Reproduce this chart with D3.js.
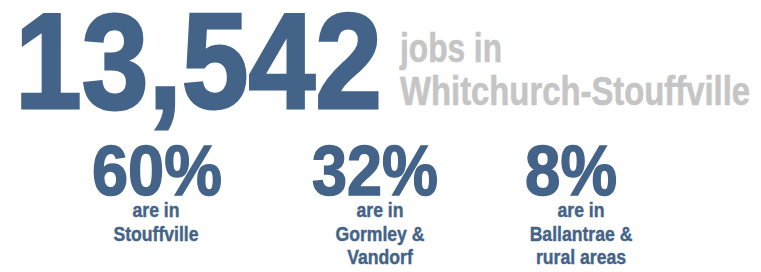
<!DOCTYPE html>
<html lang="en">
<head>
<meta charset="UTF-8">
<title>Jobs in Whitchurch-Stouffville</title>
<style>
  body { margin: 0; background: #fff; }
  svg text { font-family: "Liberation Sans Narrow", "Arial Narrow", "Liberation Sans", sans-serif; font-weight: bold; }
</style>
<script src="https://d3js.org/d3.v7.min.js"></script>
</head>
<body>
<svg id="chart" width="761" height="272"></svg>
<script>
// data
var totalJobs = 13542;
var headline = ["jobs in", "Whitchurch-Stouffville"];
var areas = ["Stouffville", "Gormley & Vandorf", "Ballantrae & rural areas"];
var shares = [60, 32, 8];
var areaLines = [["are in", "Stouffville"], ["are in", "Gormley &", "Vandorf"], ["are in", "Ballantrae &", "rural areas"]];

var blue = "#436389", grey = "#c5c5c5";
var svg = d3.select("#chart");

// big number
svg.append("text")
    .attr("x", 15).attr("y", 108)
    .attr("font-size", 136)
    .attr("textLength", 367).attr("lengthAdjust", "spacingAndGlyphs")
    .attr("fill", blue).attr("stroke", blue).attr("stroke-width", 3)
    .text(d3.format(",")(totalJobs));

svg.selectAll(".head")
    .data(headline)
    .enter().append("text")
    .attr("class", "head")
    .attr("x", 400)
    .attr("y", function (d, i) { return 62 + i * 43; })
    .attr("font-size", 40)
    .attr("textLength", function (d, i) { return i === 0 ? 102 : 350; })
    .attr("lengthAdjust", "spacingAndGlyphs")
    .attr("fill", grey).attr("stroke", grey).attr("stroke-width", 0.6)
    .text(function (d) { return d; });

// columns
var pctX = d3.scaleOrdinal().domain(areas).range([157, 375, 571]);
var lblX = d3.scaleOrdinal().domain(areas).range([156, 380, 581]);
var pctW = [130, 126, 92];

var col = svg.selectAll(".col")
    .data(areas)
    .enter().append("g")
    .attr("class", "col");

col.append("text")
    .attr("x", function (d) { return pctX(d); })
    .attr("y", 195)
    .attr("text-anchor", "middle")
    .attr("font-size", 70)
    .attr("textLength", function (d, i) { return pctW[i]; })
    .attr("lengthAdjust", "spacingAndGlyphs")
    .attr("fill", blue).attr("stroke", blue).attr("stroke-width", 1.5)
    .text(function (d, i) { return shares[i] + "%"; });

col.each(function (d, i) {
    d3.select(this).selectAll(".lbl")
        .data(areaLines[i])
        .enter().append("text")
        .attr("class", "lbl")
        .attr("x", lblX(d))
        .attr("y", function (t, j) { return 217 + j * 23.5; })
        .attr("text-anchor", "middle")
        .attr("font-size", 20)
        .attr("fill", blue).attr("stroke", blue).attr("stroke-width", 0.4)
        .text(function (t) { return t; })
        .each(function () {
            // squeeze a bit: source font is more condensed
            var w = this.getComputedTextLength();
            d3.select(this).attr("textLength", w * 0.88).attr("lengthAdjust", "spacingAndGlyphs");
        });
});
</script>
</body>
</html>
